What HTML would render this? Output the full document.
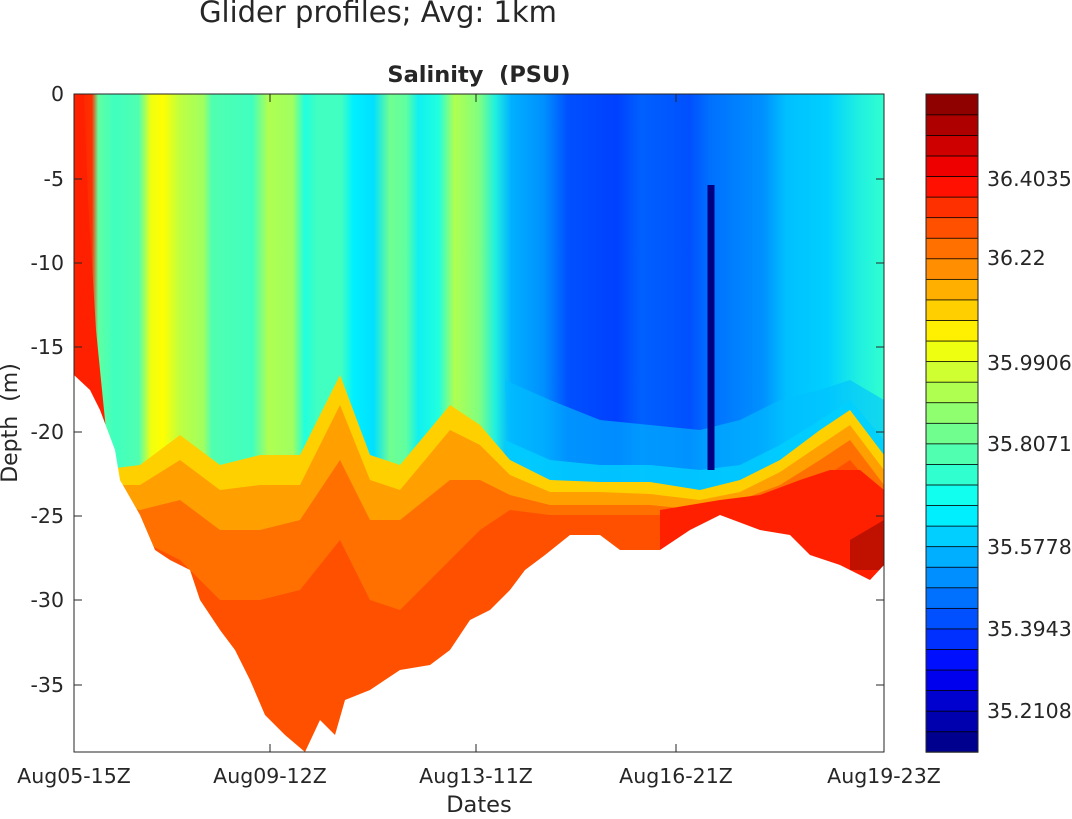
<!DOCTYPE html>
<html><head><meta charset="utf-8"><style>
body{margin:0;background:#fff;}
svg text{font-family:"DejaVu Sans","Liberation Sans",sans-serif;fill:#262626;}
</style></head><body>
<svg id="s" width="1072" height="814" xmlns="http://www.w3.org/2000/svg">
<defs>
<linearGradient id="surf" x1="74" x2="884" y1="0" y2="0" gradientUnits="userSpaceOnUse">
<stop offset="0" stop-color="#ff2000"/>
<stop offset="0.022" stop-color="#ff3000"/>
<stop offset="0.03" stop-color="#60ffa0"/>
<stop offset="0.05" stop-color="#40ffc0"/>
<stop offset="0.08" stop-color="#50ffb0"/>
<stop offset="0.095" stop-color="#f0ff10"/>
<stop offset="0.11" stop-color="#ffff00"/>
<stop offset="0.13" stop-color="#c0ff40"/>
<stop offset="0.16" stop-color="#a0ff60"/>
<stop offset="0.17" stop-color="#50ffb0"/>
<stop offset="0.22" stop-color="#40ffc0"/>
<stop offset="0.24" stop-color="#b0ff50"/>
<stop offset="0.27" stop-color="#a0ff60"/>
<stop offset="0.285" stop-color="#20ffe0"/>
<stop offset="0.3" stop-color="#40ffc0"/>
<stop offset="0.33" stop-color="#40ffc0"/>
<stop offset="0.345" stop-color="#00f0ff"/>
<stop offset="0.37" stop-color="#00e0ff"/>
<stop offset="0.39" stop-color="#70ff90"/>
<stop offset="0.41" stop-color="#60ffa0"/>
<stop offset="0.425" stop-color="#10f0f0"/>
<stop offset="0.45" stop-color="#20ffe0"/>
<stop offset="0.47" stop-color="#b0ff50"/>
<stop offset="0.5" stop-color="#80ff80"/>
<stop offset="0.52" stop-color="#20f0e0"/>
<stop offset="0.54" stop-color="#00b0ff"/>
<stop offset="0.58" stop-color="#0090ff"/>
<stop offset="0.61" stop-color="#0050ff"/>
<stop offset="0.67" stop-color="#0040ff"/>
<stop offset="0.70" stop-color="#0060ff"/>
<stop offset="0.76" stop-color="#0050ff"/>
<stop offset="0.785" stop-color="#0070ff"/>
<stop offset="0.85" stop-color="#0090ff"/>
<stop offset="0.88" stop-color="#00c0ff"/>
<stop offset="0.93" stop-color="#00d0ff"/>
<stop offset="0.97" stop-color="#20f0e0"/>
<stop offset="1" stop-color="#30ffd0"/>
</linearGradient>
</defs>
<rect x="74" y="94" width="810" height="658" fill="url(#surf)"/>
<polygon fill="#00c0ff" opacity="0.6" points="505,380 550,400 600,420 650,425 700,430 740,420 780,400 820,390 850,380 884,400 884,480 850,430 820,450 780,480 740,500 700,510 650,500 600,500 550,500 510,480"/>
<polygon fill="#00d0ff" opacity="0.8" points="505,440 550,460 600,465 650,465 700,470 740,465 780,445 820,420 850,400 884,440 884,480 850,430 820,450 780,480 740,500 700,510 650,500 600,500 550,500 510,480"/>
<polyline fill="none" stroke="#000080" stroke-width="7" points="711,185 711,470"/>
<polygon fill="#ffd000" points="74,340 100,470 140,465 180,435 220,465 260,455 300,455 340,375 370,455 400,465 450,405 480,425 510,460 550,480 600,482 650,482 700,490 740,480 780,460 820,430 850,410 884,455 884,752 74,752"/>
<polygon fill="#ffa000" points="74,355 100,485 140,485 180,460 220,490 260,485 300,485 340,405 370,480 400,490 450,430 480,445 510,475 550,492 600,492 650,494 700,500 740,492 780,472 820,445 850,425 884,470 884,752 74,752"/>
<polygon fill="#ff7000" points="74,360 100,500 140,510 180,500 220,530 260,530 300,520 340,460 370,520 400,520 450,480 480,480 510,495 550,505 600,505 650,505 700,510 740,500 780,485 820,460 850,440 884,485 884,752 74,752"/>
<polygon fill="#ff5000" points="74,360 100,510 140,540 180,560 220,600 260,600 300,590 340,540 370,600 400,610 450,560 480,530 510,510 550,515 600,515 650,515 700,515 740,505 780,495 820,480 850,460 884,500 884,752 74,752"/>
<polygon fill="#ff2000" points="74,94 84,94 88,200 96,330 108,450 120,480 140,520 74,520"/>
<polygon fill="#ff2000" points="660,510 720,500 760,495 800,480 830,470 860,470 884,490 884,752 660,752"/>
<polygon fill="#c01000" points="850,540 884,520 884,570 850,570"/>
<polygon fill="#fff" points="74,375 90,390 100,410 115,450 120,480 140,515 155,550 170,560 190,570 200,600 220,630 235,650 250,680 265,715 285,735 305,752 320,720 335,735 345,700 370,690 400,670 430,665 450,650 470,620 490,610 510,590 525,570 545,555 570,535 600,535 620,550 660,550 690,530 720,515 760,530 790,535 810,555 840,565 870,580 884,565 884,753 74,753"/>
<rect x="74" y="94" width="810" height="658" fill="none" stroke="#262626" stroke-width="1"/>
<g id="ticks" stroke="#262626" stroke-width="1"></g>
<g id="cb"></g>
<text x="378" y="22" font-size="29" text-anchor="middle">Glider profiles; Avg: 1km</text>
<text x="479" y="82" font-size="22.5" font-weight="bold" text-anchor="middle" fill="#000" xml:space="preserve">Salinity  (PSU)</text>
<text x="479" y="812" font-size="22.5" text-anchor="middle">Dates</text>
<text transform="translate(17,423) rotate(-90)" font-size="22" text-anchor="middle" xml:space="preserve">Depth  (m)</text>
<g font-size="20.5" text-anchor="end">
<text x="64" y="101">0</text><text x="64" y="186">-5</text><text x="64" y="270">-10</text>
<text x="64" y="354">-15</text><text x="64" y="439">-20</text><text x="64" y="523">-25</text>
<text x="64" y="607">-30</text><text x="64" y="692">-35</text>
</g>
<g font-size="20.5" text-anchor="middle">
<text x="74" y="783">Aug05-15Z</text><text x="270" y="783">Aug09-12Z</text>
<text x="476" y="783">Aug13-11Z</text><text x="676" y="783">Aug16-21Z</text>
<text x="884" y="783">Aug19-23Z</text>
</g>
<g font-size="20.5">
<text x="987" y="186">36.4035</text><text x="987" y="265">36.22</text>
<text x="987" y="370">35.9906</text><text x="987" y="451">35.8071</text>
<text x="987" y="554">35.5778</text><text x="987" y="636">35.3943</text>
<text x="987" y="718">35.2108</text>
</g>
</svg>
<script>
function jet(t){var r=Math.min(4*t-1.5,-4*t+4.5),g=Math.min(4*t-0.5,-4*t+3.5),b=Math.min(4*t+0.5,-4*t+2.5);
function c(v){v=Math.max(0,Math.min(1,v));return Math.round(v*255);}return "rgb("+c(r)+","+c(g)+","+c(b)+")";}
var ns="http://www.w3.org/2000/svg",cb=document.getElementById("cb"),N=32,h=658/N;
for(var i=0;i<N;i++){var r=document.createElementNS(ns,"rect");r.setAttribute("x",926);r.setAttribute("y",752-(i+1)*h);
r.setAttribute("width",52);r.setAttribute("height",h+0.3);r.setAttribute("fill",jet((i+0.5)/N));r.setAttribute("stroke","#000");r.setAttribute("stroke-width","0.8");cb.appendChild(r);}
var o=document.createElementNS(ns,"rect");o.setAttribute("x",926);o.setAttribute("y",94);o.setAttribute("width",52);o.setAttribute("height",658);o.setAttribute("fill","none");o.setAttribute("stroke","#262626");cb.appendChild(o);
var t=document.getElementById("ticks"),ys=[179,263,347,432,516,600,685];
ys.forEach(function(y){var l=document.createElementNS(ns,"path");l.setAttribute("d","M74 "+y+"h8M884 "+y+"h-8");t.appendChild(l);});
[270,476,676].forEach(function(x){var l=document.createElementNS(ns,"path");l.setAttribute("d","M"+x+" 752v-8M"+x+" 94v8");t.appendChild(l);});
</script>
</body></html>
